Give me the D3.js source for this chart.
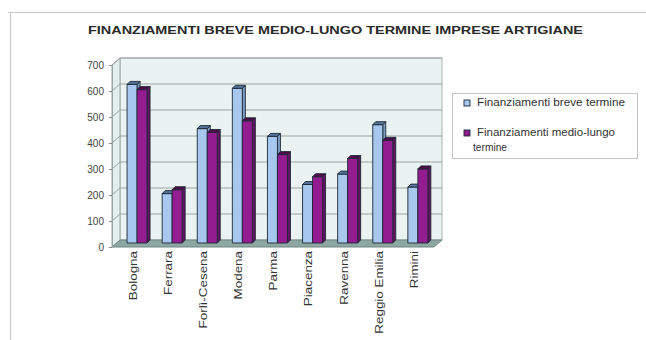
<!DOCTYPE html>
<html>
<head>
<meta charset="utf-8">
<script src="https://cdn.jsdelivr.net/npm/d3@7"></script>
<style>
  html, body { margin: 0; padding: 0; background: #fff; }
  svg { display: block; font-family: "Liberation Sans", Arial, sans-serif; }
</style>
</head>
<body>
<svg id="chart" width="646" height="340"></svg>
<script>
// Province dell'Emilia-Romagna
const categories = ["Bologna", "Ferrara", "Forlì-Cesena", "Modena", "Parma",
                    "Piacenza", "Ravenna", "Reggio Emilia", "Rimini"];
const breveTermine      = [610, 190, 440, 595, 410, 225, 265, 455, 215];
const medioLungoTermine = [590, 205, 425, 470, 340, 255, 325, 395, 285];
const seriesNames = ["Finanziamenti breve termine", "Finanziamenti medio-lungo termine"];
const yTicks = [0, 100, 200, 300, 400, 500, 600, 700];
const title = "FINANZIAMENTI BREVE MEDIO-LUNGO TERMINE IMPRESE ARTIGIANE";

const series = [
  { name: seriesNames[0], values: breveTermine,      front: "#a7c7ef", top: "#54739a", side: "#7c9cc4" },
  { name: seriesNames[1], values: medioLungoTermine, front: "#931c90", top: "#4e0c4c", side: "#661064" }
];

const svg = d3.select("#chart");

// outer chart-area border (top and left edges)
svg.append("line").attr("x1", 8).attr("x2", 646).attr("y1", 12.5).attr("y2", 12.5)
  .attr("stroke", "#c9c9c9").attr("stroke-width", 1.2);
svg.append("line").attr("x1", 10.5).attr("x2", 10.5).attr("y1", 12).attr("y2", 340)
  .attr("stroke", "#c9c9c9").attr("stroke-width", 1.2);

// title
svg.append("text")
  .attr("x", 88).attr("y", 34)
  .attr("textLength", 495).attr("lengthAdjust", "spacingAndGlyphs")
  .attr("font-size", 10).attr("font-weight", "bold").attr("fill", "#2a2a2a")
  .text(title);

// pseudo-3D geometry: front plane scales + depth offset
const depth = { dx: 8, dy: -7 };
const wallLeft = 112, wallRight = 434;
const y = d3.scaleLinear().domain([0, 700]).range([247, 65]);
const x = d3.scaleBand().domain(categories).range([115.5, 431.4]);
const barW = 10, barD = 3, barOff = 4;

const g = svg.append("g");

// back wall
g.append("rect")
  .attr("x", wallLeft + depth.dx).attr("y", y(700) + depth.dy)
  .attr("width", wallRight - wallLeft).attr("height", y(0) - y(700))
  .attr("fill", "#eaf3f1").attr("stroke", "#a9b3b2").attr("stroke-width", 1);

// left wall
g.append("polygon")
  .attr("points", [
    [wallLeft, y(0)], [wallLeft, y(700)],
    [wallLeft + depth.dx, y(700) + depth.dy], [wallLeft + depth.dx, y(0) + depth.dy]
  ].map(p => p.join(",")).join(" "))
  .attr("fill", "#e3efed").attr("stroke", "#9aa6a5").attr("stroke-width", 1);

// gridlines on back and left walls
yTicks.filter(t => t > 0).forEach(t => {
  g.append("line")
    .attr("x1", wallLeft + depth.dx).attr("x2", wallRight + depth.dx)
    .attr("y1", y(t) + depth.dy).attr("y2", y(t) + depth.dy)
    .attr("stroke", "#9ba3a3").attr("stroke-width", 1);
  g.append("line")
    .attr("x1", wallLeft).attr("x2", wallLeft + depth.dx)
    .attr("y1", y(t)).attr("y2", y(t) + depth.dy)
    .attr("stroke", "#9ba3a3").attr("stroke-width", 1);
});

// floor
g.append("polygon")
  .attr("points", [
    [wallLeft, y(0)], [wallRight, y(0)],
    [wallRight + depth.dx, y(0) + depth.dy], [wallLeft + depth.dx, y(0) + depth.dy]
  ].map(p => p.join(",")).join(" "))
  .attr("fill", "#8fa7a2").attr("stroke", "#6f8783").attr("stroke-width", 1);

// value axis on the front-left edge
const yAxis = g.append("g")
  .attr("transform", `translate(${wallLeft},0)`)
  .call(d3.axisLeft(y).tickValues(yTicks).tickSize(3).tickPadding(5));
yAxis.select(".domain").attr("stroke", "#9aa6a5");
yAxis.selectAll(".tick line").attr("stroke", "#888");
yAxis.selectAll(".tick text").attr("font-size", 10).attr("fill", "#444")
  .attr("font-family", "'Liberation Sans', Arial, sans-serif");

// bars
const bars = g.append("g");
categories.forEach((c, i) => {
  series.forEach((s, k) => {
    const v = s.values[i];
    const x0 = x(c) + (x.bandwidth() - 2 * barW) / 2 + k * barW + barOff;
    const yT = y(v) - barOff, yB = y(0) - barOff;
    const bg = bars.append("g").attr("stroke", "#1d2935").attr("stroke-width", 0.9)
      .attr("stroke-linejoin", "round");
    bg.append("polygon")
      .attr("points", [[x0 + barW, yT], [x0 + barW + barD, yT - barD],
                       [x0 + barW + barD, yB - barD], [x0 + barW, yB]].map(p => p.join(",")).join(" "))
      .attr("fill", s.side);
    bg.append("rect").attr("x", x0).attr("y", yT).attr("width", barW).attr("height", yB - yT)
      .attr("fill", s.front);
    bg.append("polygon")
      .attr("points", [[x0, yT], [x0 + barW, yT], [x0 + barW + barD, yT - barD],
                       [x0 + barD, yT - barD]].map(p => p.join(",")).join(" "))
      .attr("fill", s.top);
  });
});

// category labels, rotated
const xAxis = g.append("g");
categories.forEach(c => {
  const cx = x(c) + x.bandwidth() / 2;
  xAxis.append("text")
    .attr("transform", `translate(${cx},251) rotate(-90) scale(1.22,1)`)
    .attr("text-anchor", "end").attr("dy", "0.35em")
    .attr("font-size", 11).attr("fill", "#333")
    .text(c);
});

// legend
const legend = svg.append("g");
legend.append("rect")
  .attr("x", 452.5).attr("y", 93.5).attr("width", 185).attr("height", 65)
  .attr("fill", "#fff").attr("stroke", "#c4c4c4").attr("stroke-width", 1);

const legendRows = [
  { s: series[0], sy: 100, lines: ["Finanziamenti breve termine"], lens: [148] },
  { s: series[1], sy: 130, lines: ["Finanziamenti medio-lungo", "termine"], lens: [138, 34] }
];
legendRows.forEach(r => {
  legend.append("rect")
    .attr("x", 464).attr("y", r.sy).attr("width", 6).attr("height", 6)
    .attr("fill", r.s.front).attr("stroke", "#1d2935").attr("stroke-width", 0.9);
  r.lines.forEach((ln, j) => {
    legend.append("text")
      .attr("x", j === 0 ? 477 : 473).attr("y", r.sy + 6 + j * 15)
      .attr("font-size", 10).attr("fill", "#333")
      .attr("textLength", r.lens[j]).attr("lengthAdjust", "spacingAndGlyphs")
      .text(ln);
  });
});
</script>
</body>
</html>
